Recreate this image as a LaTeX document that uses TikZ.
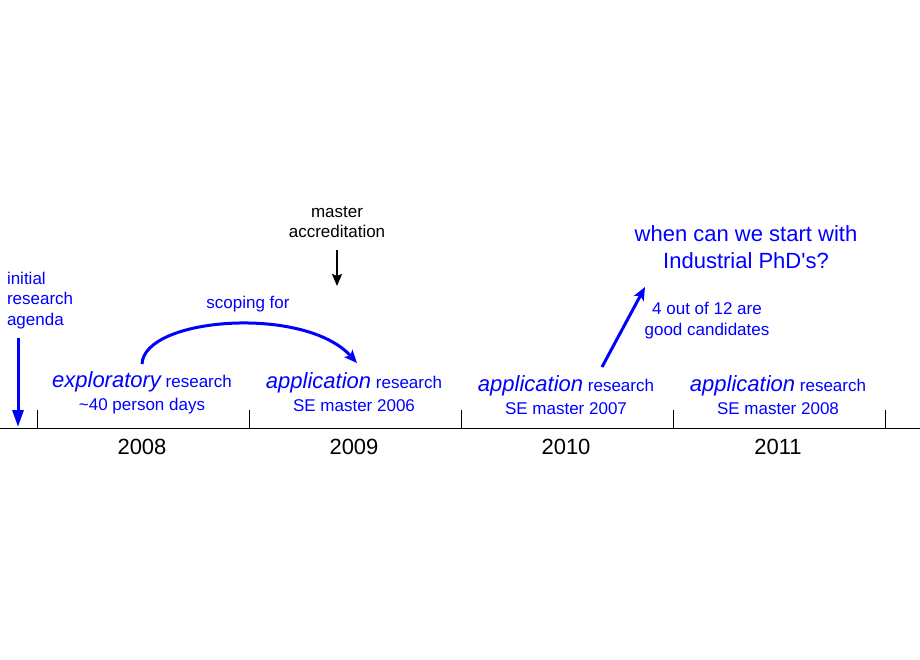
\documentclass[tikz,border=0pt]{standalone}
\usepackage{fontspec}
\setmainfont{Liberation Sans}
\usetikzlibrary{arrows.meta,positioning}
\newcommand{\notecolor}{blue}
\newcommand{\bigsize}{\fontsize{22}{27}\selectfont}
\newcommand{\smallsize}{\fontsize{17}{20.5}\selectfont}
\tikzstyle{every node}=[inner sep=0, outer sep=0]
\tikzstyle{yearnode}=[font=\bigsize, anchor=base]
\tikzstyle{notenode}=[font=\smallsize, text=\notecolor, align=center, anchor=base]
\tikzstyle{bluearrow}=[draw=\notecolor, line width=3pt, -{Stealth[length=13pt,width=11pt,inset=3pt]}]
\newcommand{\yearlabel}[3]{\node[yearnode] (#1) at (#2) {#3};}
\newcommand{\researchnode}[4]{\node[notenode] (#1) at (#2) {{\bigsize\itshape #3} research};
  \node[notenode] (#1sub) at ([yshift=-23pt]#1.base) {#4};}

\begin{document}
\begin{tikzpicture}[x=1pt, y=-1pt]
\useasboundingbox (0,0) rectangle (920,660);

% time line with year ticks
\coordinate (tl) at (0,428);
\coordinate (tr) at (920,428);
\draw (tl) -- (tr);
\foreach \x in {37,249,461,673,885}
  \draw (\x,410) -- (\x,428);

\yearlabel{y08}{142,454}{2008}
\yearlabel{y09}{354,454}{2009}
\yearlabel{y10}{566,454}{2010}
\yearlabel{y11}{778,454}{2011}

\researchnode{explor}{142,387}{exploratory}{\textasciitilde40 person days}
\researchnode{app09}{354,388}{application}{SE master 2006}
\researchnode{app10}{566,391}{application}{SE master 2007}
\researchnode{app11}{778,391}{application}{SE master 2008}

% notes above the time line (base = last line)
\node[notenode, align=left, anchor=base west] (agenda) at (7,325) {initial\\research\\agenda};
\node[notenode, text=black] (accred) at (337,238) {master\\accreditation};
\node[notenode] (scope) at (248,308) {scoping for};
\node[notenode, font=\bigsize] (phd) at (746,269) {when can we start with\\Industrial PhD\textquotesingle s?};
\node[notenode] (cand) at (707,335) {4 out of 12 are\\good candidates};

\coordinate (agendafrom) at (18,338);
\coordinate (agendato) at (18,427);
\coordinate (accredfrom) at (337,250);
\coordinate (accredto) at (337,286);
\coordinate (candfrom) at (602,367);
\coordinate (candto) at (645,287);

\draw[draw=\notecolor, line width=3pt, -{Triangle[length=17pt,width=11pt]}] (agendafrom) -- (agendato);
\draw[line width=2pt, -{Stealth[length=12pt,width=10pt,inset=2pt]}] (accredfrom) -- (accredto);
\draw[bluearrow] ([yshift=7pt]explor.north) .. controls +(2,-47) and +(-52,-58) .. ([xshift=3pt,yshift=9pt]app09.north);
\draw[bluearrow] (candfrom) -- (candto);
\end{tikzpicture}
\end{document}
